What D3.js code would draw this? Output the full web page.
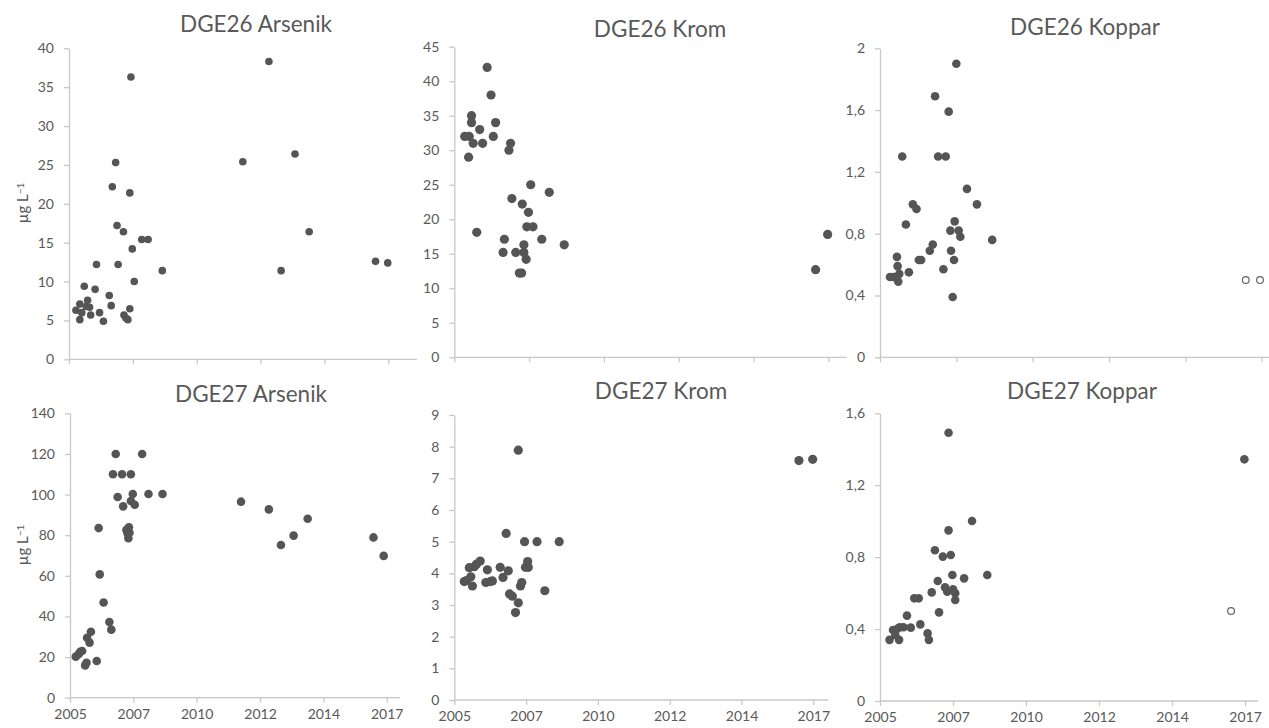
<!DOCTYPE html>
<html>
<head>
<meta charset="utf-8">
<script src="https://cdn.jsdelivr.net/npm/d3@7"></script>
<style>
  body { margin: 0; background: #fff; }
  svg text { font-family: Lato, "Open Sans", sans-serif; fill: #595959; }
</style>
</head>
<body>
<div id="chart"></div>
<script>

// x axis: Excel date axis, ticks every ~2.3 years, labelled by year
const xTickDates = [2005.5, 2007.8, 2010.1, 2012.4, 2014.7, 2017.0];
const xTickLabels = ["2005", "2007", "2010", "2012", "2014", "2017"];

// y tick values per panel
const ticksAs26 = [0, 5, 10, 15, 20, 25, 30, 35, 40];
const ticksCr26 = [0, 5, 10, 15, 20, 25, 30, 35, 40, 45];
const ticksCu26 = [0, 0.4, 0.8, 1.2, 1.6, 2];
const ticksAs27 = [0, 20, 40, 60, 80, 100, 120, 140];
const ticksCr27 = [0, 1, 2, 3, 4, 5, 6, 7, 8, 9];
const ticksCu27 = [0, 0.4, 0.8, 1.2, 1.6];

// [decimal year, µg/L]
const dge26Arsenik = [
	[2005.75, 6.3], [2005.89, 7.1], [2005.89, 5.1], [2005.96, 6.0], [2006.05, 9.4],
	[2006.17, 7.6], [2006.12, 6.8], [2006.24, 6.7], [2006.28, 5.7], [2006.44, 9.0],
	[2006.49, 12.2], [2006.60, 6.0], [2006.74, 4.9], [2006.95, 8.2], [2007.02, 6.9],
	[2007.06, 22.2], [2007.18, 25.3], [2007.23, 17.2], [2007.27, 12.2], [2007.46, 16.4],
	[2007.48, 5.7], [2007.55, 5.3], [2007.62, 5.1], [2007.69, 21.4], [2007.69, 6.5],
	[2007.73, 36.3], [2007.78, 14.2], [2007.85, 10.0], [2008.12, 15.4], [2008.35, 15.4],
	[2008.86, 11.4], [2011.76, 25.4], [2012.70, 38.3], [2013.14, 11.4], [2013.64, 26.4],
	[2014.15, 16.4], [2016.54, 12.6], [2016.98, 12.4]
];

const dge26Krom = [
	[2005.82, 32], [2005.96, 32], [2005.94, 29], [2006.03, 35], [2006.03, 34],
	[2006.08, 31], [2006.19, 18.1], [2006.28, 33], [2006.37, 31], [2006.51, 42],
	[2006.63, 38], [2006.70, 32], [2006.77, 34], [2007.00, 15.2], [2007.04, 17.1],
	[2007.18, 30], [2007.23, 31], [2007.27, 23], [2007.39, 15.2], [2007.50, 12.2],
	[2007.57, 12.2], [2007.59, 22.2], [2007.64, 16.3], [2007.64, 15.2], [2007.71, 14.2],
	[2007.73, 18.9], [2007.78, 21], [2007.85, 25], [2007.92, 18.9], [2008.19, 17.1],
	[2008.42, 23.9], [2008.88, 16.3], [2016.61, 12.7], [2016.98, 17.8]
];

const dge26Koppar = [
	[2005.80, 0.52], [2005.91, 0.52], [2006.01, 0.65], [2006.03, 0.59], [2006.05, 0.49],
	[2006.08, 0.54], [2006.17, 1.30], [2006.28, 0.86], [2006.37, 0.55], [2006.49, 0.99],
	[2006.60, 0.96], [2006.67, 0.63], [2006.74, 0.63], [2007.00, 0.69], [2007.09, 0.73],
	[2007.16, 1.69], [2007.25, 1.30], [2007.41, 0.57], [2007.48, 1.30], [2007.57, 1.59],
	[2007.62, 0.82], [2007.64, 0.69], [2007.69, 0.39], [2007.73, 0.63], [2007.75, 0.88],
	[2007.80, 1.90], [2007.87, 0.82], [2007.92, 0.78], [2008.12, 1.09], [2008.42, 0.99],
	[2008.88, 0.76]
];
// below detection limit (hollow markers)
const dge26KopparBdl = [[2016.52, 0.5], [2016.95, 0.5]];

const dge27Arsenik = [
	[2005.71, 20.2], [2005.82, 21.5], [2005.87, 22.6], [2005.94, 23.0], [2006.05, 15.9],
	[2006.10, 17.2], [2006.12, 29.5], [2006.21, 27.1], [2006.26, 32.5], [2006.47, 18.1],
	[2006.54, 83.5], [2006.58, 60.7], [2006.72, 46.9], [2006.93, 37.3], [2007.00, 33.5],
	[2007.06, 110], [2007.16, 120], [2007.23, 98.8], [2007.39, 110], [2007.43, 94.2],
	[2007.55, 82.6], [2007.59, 80.9], [2007.62, 78.5], [2007.64, 83.9], [2007.66, 81.2],
	[2007.71, 110], [2007.71, 96.8], [2007.78, 100.3], [2007.85, 95.0], [2008.12, 120],
	[2008.35, 100.3], [2008.86, 100.3], [2011.71, 96.5], [2012.72, 92.7], [2013.16, 75.2],
	[2013.62, 79.8], [2014.13, 88.1], [2016.52, 78.9], [2016.89, 69.8]
];

const dge27Krom = [
	[2005.82, 3.74], [2005.89, 3.77], [2005.98, 4.18], [2006.03, 3.89], [2006.08, 3.60],
	[2006.14, 4.21], [2006.21, 4.29], [2006.33, 4.39], [2006.51, 3.71], [2006.56, 4.11],
	[2006.65, 3.74], [2006.72, 3.76], [2006.97, 4.19], [2007.06, 3.87], [2007.16, 5.26],
	[2007.23, 4.08], [2007.27, 3.35], [2007.36, 3.28], [2007.46, 2.76], [2007.55, 7.89],
	[2007.55, 3.07], [2007.62, 3.60], [2007.66, 3.71], [2007.75, 5.00], [2007.78, 4.19],
	[2007.85, 4.37], [2007.87, 4.19], [2008.15, 5.00], [2008.40, 3.45], [2008.86, 5.00],
	[2016.54, 7.56], [2016.98, 7.60]
];

const dge27Koppar = [
	[2005.80, 0.34], [2005.91, 0.395], [2005.98, 0.367], [2006.05, 0.402], [2006.10, 0.34],
	[2006.12, 0.41], [2006.24, 0.41], [2006.35, 0.475], [2006.47, 0.408], [2006.58, 0.571],
	[2006.72, 0.571], [2006.77, 0.426], [2007.00, 0.376], [2007.04, 0.34], [2007.13, 0.604],
	[2007.23, 0.838], [2007.32, 0.667], [2007.36, 0.493], [2007.48, 0.803], [2007.55, 0.632],
	[2007.62, 0.608], [2007.66, 0.949], [2007.66, 1.492], [2007.73, 0.812], [2007.78, 0.701],
	[2007.80, 0.621], [2007.87, 0.599], [2007.87, 0.562], [2008.15, 0.682], [2008.40, 1.001],
	[2008.88, 0.701], [2016.98, 1.344]
];
const dge27KopparBdl = [[2016.56, 0.5]];


function drawCharts(){

	const width = 1269;
	const height = 728;

	//swedish number format (decimal comma)
	const sv = d3.formatLocale({
		"decimal": ",",
		"thousands": "\u2009",
		"grouping": [3],
		"currency": ["", ""]
	});
	const yFormat = sv.format("~f");

	let svg = d3.select("#chart")
		.append("svg")
		.attr("width", width)
		.attr("height", height);

	//panel layout
	let panels = [
		{title: "DGE26 Arsenik", data: dge26Arsenik, bdl: [], ticks: ticksAs26,
			left: 69, tick5: 388.3, right: 417, y0: 359.3, yTop: 48.3,
			titleX: 256, titleY: 32, r: 3.8, showX: false, yLabelY: 203},
		{title: "DGE26 Krom", data: dge26Krom, bdl: [], ticks: ticksCr26,
			left: 454.3, tick5: 828.3, right: 846.7, y0: 357.3, yTop: 46.7,
			titleX: 660, titleY: 36.5, r: 4.6, showX: false},
		{title: "DGE26 Koppar", data: dge26Koppar, bdl: dge26KopparBdl, ticks: ticksCu26,
			left: 880, tick5: 1261.7, right: 1275, y0: 357.3, yTop: 48.3,
			titleX: 1085, titleY: 35, r: 4.3, showX: false},
		{title: "DGE27 Arsenik", data: dge27Arsenik, bdl: [], ticks: ticksAs27,
			left: 70, tick5: 386.7, right: 400, y0: 697.7, yTop: 413.3,
			titleX: 251, titleY: 401.5, r: 4.3, showX: true, yLabelY: 545},
		{title: "DGE27 Krom", data: dge27Krom, bdl: [], ticks: ticksCr27,
			left: 454.3, tick5: 813.3, right: 828.3, y0: 700, yTop: 415,
			titleX: 661, titleY: 399, r: 4.6, showX: true},
		{title: "DGE27 Koppar", data: dge27Koppar, bdl: dge27KopparBdl, ticks: ticksCu27,
			left: 880, tick5: 1245, right: 1258.3, y0: 701, yTop: 413.3,
			titleX: 1082, titleY: 399, r: 4.3, showX: true}
	];

	panels.forEach(function(p){

		let g = svg.append("g");

		let x = d3.scaleLinear()
			.domain([xTickDates[0], xTickDates[xTickDates.length - 1]])
			.range([p.left, p.tick5]);

		let y = d3.scaleLinear()
			.domain([p.ticks[0], p.ticks[p.ticks.length - 1]])
			.range([p.y0, p.yTop]);

		//title
		g.append("text")
			.attr("x", p.titleX)
			.attr("y", p.titleY)
			.attr("text-anchor", "middle")
			.style("font-size", "22.5px")
			.text(p.title);

		//y axis
		let yAxis = g.append("g")
			.attr("transform", "translate(" + p.left + ",0)")
			.call(d3.axisLeft(y).tickValues(p.ticks).tickSize(5).tickSizeOuter(0).tickPadding(10).tickFormat(yFormat));

		yAxis.select(".domain").attr("stroke", "#c8c8c8").attr("stroke-width", 1.3);
		yAxis.selectAll(".tick line").attr("stroke", "#c8c8c8").attr("stroke-width", 1.3);
		yAxis.selectAll(".tick text")
			.style("font-size", "14px")
			.style("font-family", "Lato, sans-serif")
			.attr("fill", "#595959");

		//x axis
		let xAxis = g.append("g")
			.attr("transform", "translate(0," + p.y0 + ")")
			.call(d3.axisBottom(x).tickValues(xTickDates).tickSize(5).tickSizeOuter(0).tickPadding(6)
				.tickFormat(function(d, i){ return p.showX ? xTickLabels[i] : ""; }));

		xAxis.select(".domain").remove();
		xAxis.append("line")
			.attr("x1", p.left)
			.attr("x2", p.right)
			.attr("stroke", "#c8c8c8")
			.attr("stroke-width", 1.3);
		xAxis.selectAll(".tick line").attr("stroke", "#c8c8c8").attr("stroke-width", 1.3);
		xAxis.selectAll(".tick text")
			.style("font-size", "14px")
			.style("font-family", "Lato, sans-serif")
			.attr("fill", "#595959");

		//y axis title
		if(p.yLabelY){
			let lab = g.append("text")
				.attr("transform", "translate(28," + p.yLabelY + ") rotate(-90)")
				.attr("text-anchor", "middle")
				.style("font-size", "15px");
			lab.append("tspan").text("\u00b5g L");
			lab.append("tspan")
				.attr("dy", "-0.45em")
				.style("font-size", "10px")
				.text("\u22121");
		}

		//measured values
		g.append("g")
			.selectAll("circle")
			.data(p.data)
			.enter().append("circle")
			.attr("cx", function(d){ return x(d[0]); })
			.attr("cy", function(d){ return y(d[1]); })
			.attr("r", p.r)
			.attr("fill", "#555555");

		//below detection limit
		g.append("g")
			.selectAll("circle")
			.data(p.bdl)
			.enter().append("circle")
			.attr("cx", function(d){ return x(d[0]); })
			.attr("cy", function(d){ return y(d[1]); })
			.attr("r", 3.4)
			.attr("fill", "#fff")
			.attr("stroke", "#666")
			.attr("stroke-width", 1.2);
	});

}

window.addEventListener("load", drawCharts);
</script>
</body>
</html>
